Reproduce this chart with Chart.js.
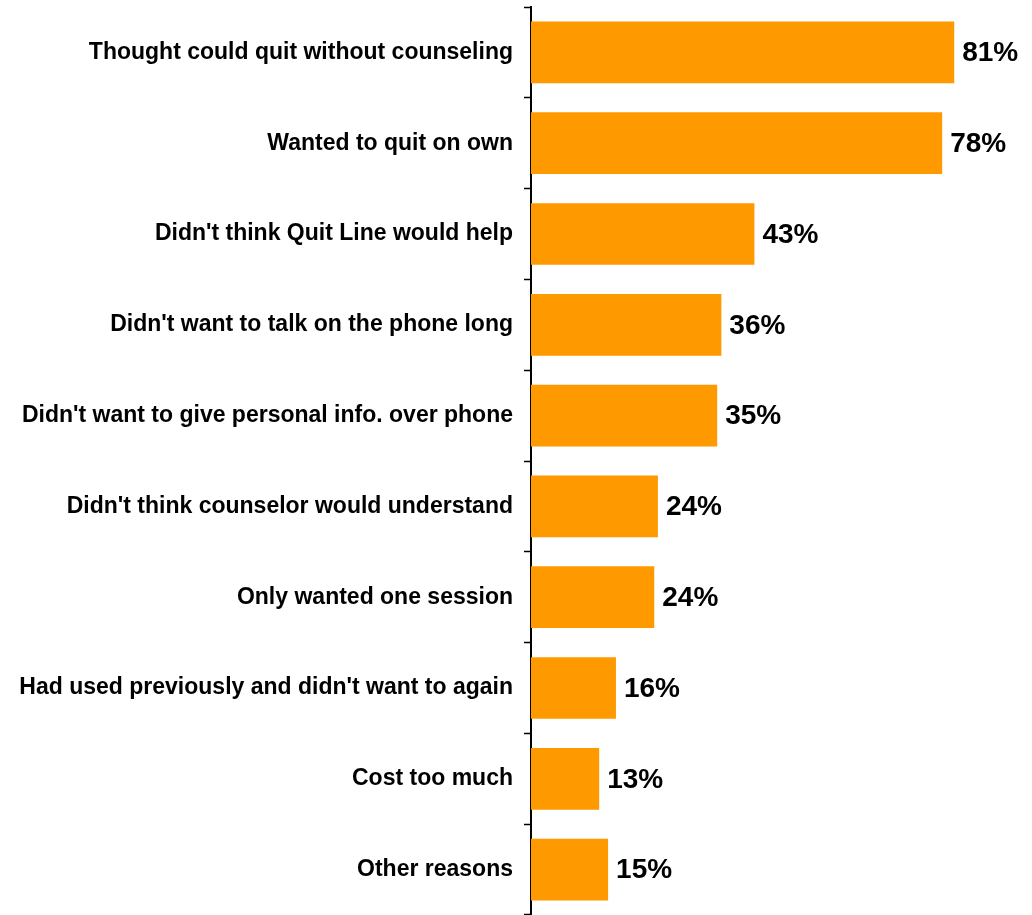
<!DOCTYPE html>
<html>
<head>
<meta charset="utf-8">
<script src="https://cdn.jsdelivr.net/npm/chart.js@4/dist/chart.umd.min.js"></script>
<style>
  html, body { margin: 0; padding: 0; background: #ffffff; }
  #wrap { width: 1032px; height: 915px; }
</style>
</head>
<body>
<div id="wrap"><canvas id="c" width="1032" height="915"></canvas></div>
<script>
const categories = [
  "Thought could quit without counseling",
  "Wanted to quit on own",
  "Didn't think Quit Line would help",
  "Didn't want to talk on the phone long",
  "Didn't want to give personal info. over phone",
  "Didn't think counselor would understand",
  "Only wanted one session",
  "Had used previously and didn't want to again",
  "Cost too much",
  "Other reasons"
];
const values = [80.7, 78.4, 42.6, 36.3, 35.5, 24.2, 23.5, 16.2, 13.0, 14.7];
const valueLabels = ["81%", "78%", "43%", "36%", "35%", "24%", "24%", "16%", "13%", "15%"];

const FONT = "'Liberation Sans', Arial, sans-serif";

const valueLabelPlugin = {
  id: 'valueLabels',
  afterDatasetsDraw(chart) {
    const ctx = chart.ctx;
    const meta = chart.getDatasetMeta(0);
    ctx.save();
    ctx.font = "bold 28px " + FONT;
    ctx.fillStyle = "#000000";
    ctx.textAlign = "left";
    ctx.textBaseline = "middle";
    meta.data.forEach((bar, i) => {
      ctx.fillText(valueLabels[i], bar.x + 8, bar.y + 1);
    });
    ctx.restore();
  }
};

new Chart(document.getElementById('c'), {
  type: 'bar',
  data: {
    labels: categories,
    datasets: [{
      data: values,
      backgroundColor: '#FF9900',
      borderWidth: 0,
      categoryPercentage: 1.0,
      barPercentage: 0.68
    }]
  },
  options: {
    indexAxis: 'y',
    responsive: false,
    devicePixelRatio: 1,
    animation: false,
    layout: { padding: { top: 7, bottom: 0, left: 0, right: 29 } },
    plugins: {
      legend: { display: false },
      tooltip: { enabled: false },
      title: { display: false }
    },
    scales: {
      x: {
        display: false,
        min: 0,
        max: 90
      },
      y: {
        afterFit(scale) {
          scale.width = 531;
          scale.paddingTop = 0;
          scale.paddingBottom = 0;
        },
        border: { display: true, color: '#000000', width: 2 },
        grid: {
          display: true,
          offset: true,
          drawOnChartArea: false,
          drawTicks: true,
          tickLength: 7,
          tickWidth: 1.5,
          tickColor: '#000000',
          color: '#000000'
        },
        ticks: {
          color: '#000000',
          padding: 11,
          autoSkip: false,
          font: { family: FONT, size: 23, weight: 'bold' }
        }
      }
    }
  },
  plugins: [valueLabelPlugin]
});
</script>
</body>
</html>
